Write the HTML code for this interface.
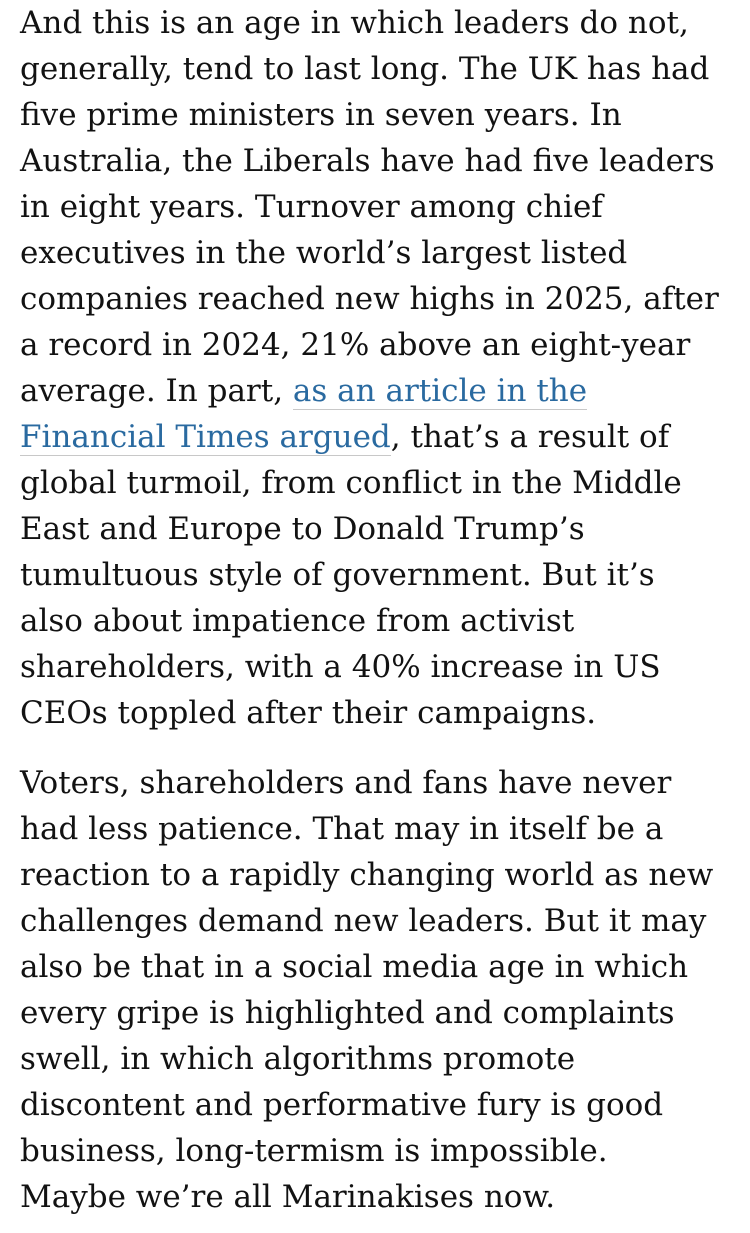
<!DOCTYPE html>
<html><head><meta charset="utf-8"><style>
html,body{margin:0;padding:0;background:#fff;}
body{width:750px;height:1233px;overflow:hidden;font-family:"DejaVu Serif","Liberation Serif",serif;font-size:31px;color:#121212;}
.p{padding-left:20px;}
.l{height:46px;line-height:46px;white-space:nowrap;}
a{color:#2a6aa0;text-decoration:none;border-bottom:1px solid #c8c8c8;}
</style></head><body>
<div class="p" style="padding-top:0px">
<div class="l">And this is an age in which leaders do not,</div>
<div class="l">generally, tend to last long. The UK has had</div>
<div class="l">five prime ministers in seven years. In</div>
<div class="l">Australia, the Liberals have had five leaders</div>
<div class="l">in eight years. Turnover among chief</div>
<div class="l">executives in the world’s largest listed</div>
<div class="l">companies reached new highs in 2025, after</div>
<div class="l">a record in 2024, 21% above an eight-year</div>
<div class="l">average. In part, <a>as an article in the</a></div>
<div class="l"><a>Financial Times argued</a>, that’s a result of</div>
<div class="l">global turmoil, from conflict in the Middle</div>
<div class="l">East and Europe to Donald Trump’s</div>
<div class="l">tumultuous style of government. But it’s</div>
<div class="l">also about impatience from activist</div>
<div class="l">shareholders, with a 40% increase in US</div>
<div class="l">CEOs toppled after their campaigns.</div>
</div>
<div class="p" style="margin-top:24px">
<div class="l">Voters, shareholders and fans have never</div>
<div class="l">had less patience. That may in itself be a</div>
<div class="l">reaction to a rapidly changing world as new</div>
<div class="l">challenges demand new leaders. But it may</div>
<div class="l">also be that in a social media age in which</div>
<div class="l">every gripe is highlighted and complaints</div>
<div class="l">swell, in which algorithms promote</div>
<div class="l">discontent and performative fury is good</div>
<div class="l">business, long-termism is impossible.</div>
<div class="l">Maybe we’re all Marinakises now.</div>
</div>
</body></html>
